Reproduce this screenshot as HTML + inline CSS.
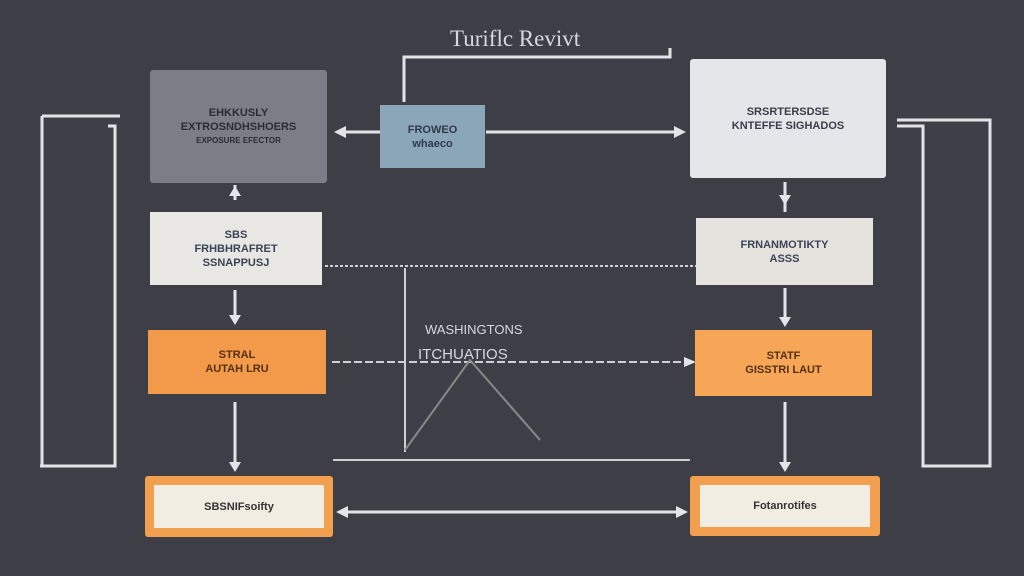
<!DOCTYPE html>
<html><head><meta charset="utf-8"><style>
html,body{margin:0;padding:0;}
body{width:1024px;height:576px;background:#3e3e46;position:relative;overflow:hidden;font-family:"Liberation Sans",sans-serif;}
.b{position:absolute;display:flex;flex-direction:column;align-items:center;justify-content:center;text-align:center;font-size:11px;font-weight:bold;line-height:14px;}
svg{position:absolute;left:0;top:0;}
.t{position:absolute;color:#d8d8dc;}
</style></head><body>
<svg width="1024" height="576">
<g stroke="#e4e4e8" stroke-width="3" fill="none">
<path d="M42 116 H120 M42 116 V466 H40 M42 466 H115 V126 H108"/>
<path d="M897 120 H990 V466 H923 V126 H897"/>
<path d="M404 102 V57 H670 V48"/>
<path d="M486 132 H678"/>
<path d="M342 132 H380"/>
<path d="M235 185 V200 M235 290 V318 M235 402 V465"/>
<path d="M785 182 V212 M785 288 V322 M785 402 V465"/>
<path d="M344 512 H680"/>
</g>
<g stroke="#cfcfd4" stroke-width="2" fill="none">
<path d="M325 266 H696" stroke-dasharray="3 2"/>
<path d="M405 268 V452"/>
<path d="M332 362 H690" stroke-dasharray="8 3"/>
<path d="M333 460 H690"/>
<path d="M405 450 L470 360 L540 440" stroke="#888"/>
</g>
<g fill="#e4e4e8">
<polygon points="686,132 674,126 674,138"/>
<polygon points="334,132 346,126 346,138"/>
<polygon points="235,186 229,196 241,196"/>
<polygon points="235,325 229,315 241,315"/>
<polygon points="235,472 229,462 241,462"/>
<polygon points="785,205 779,195 791,195"/>
<polygon points="785,327 779,317 791,317"/>
<polygon points="785,472 779,462 791,462"/>
<polygon points="688,512 676,506 676,518"/>
<polygon points="336,512 348,506 348,518"/>
<polygon points="696,362 684,357 684,367"/>
</g>
</svg>
<div class="t" style="left:450px;top:26px;font-size:23px;font-family:'Liberation Serif',serif;">Turiflc Revivt</div>
<div class="b" style="left:150px;top:70px;width:177px;height:113px;background:#7b7e86;border-radius:3px;color:#2a2c33;">EHKKUSLY<br>EXTROSNDHSHOERS<br><span style="font-size:8px">EXPOSURE EFECTOR</span></div>
<div class="b" style="left:380px;top:105px;width:105px;height:63px;background:#8ba6b9;color:#2e3a48;">FROWEO<br>whaeco</div>
<div class="b" style="left:690px;top:59px;width:196px;height:119px;background:#e4e6ea;border-radius:3px;color:#3a3e4a;">SRSRTERSDSE<br>KNTEFFE SIGHADOS</div>
<div class="b" style="left:150px;top:212px;width:172px;height:73px;background:#e8e7e4;color:#3b4456;">SBS<br>FRHBHRAFRET<br>SSNAPPUSJ</div>
<div class="b" style="left:696px;top:218px;width:177px;height:67px;background:#e6e3de;color:#3b4456;">FRNANMOTIKTY<br>ASSS</div>
<div class="b" style="left:148px;top:330px;width:178px;height:64px;background:#f39a4a;color:#553010;">STRAL<br>AUTAH LRU</div>
<div class="b" style="left:695px;top:330px;width:177px;height:66px;background:#f6a656;color:#553010;">STATF<br>GISSTRI LAUT</div>
<div class="b" style="left:145px;top:476px;width:188px;height:61px;background:#f2a050;border-radius:3px;"><div style="width:170px;height:43px;background:#f2ede2;display:flex;align-items:center;justify-content:center;color:#333;">SBSNIFsoifty</div></div>
<div class="b" style="left:690px;top:476px;width:190px;height:60px;background:#f2a050;border-radius:3px;"><div style="width:170px;height:42px;background:#f2ede2;display:flex;align-items:center;justify-content:center;color:#333;">Fotanrotifes</div></div>
<div class="t" style="left:425px;top:322px;font-size:13px;">WASHINGTONS</div>
<div class="t" style="left:418px;top:346px;font-size:15px;">ITCHUATIOS</div>
</body></html>
